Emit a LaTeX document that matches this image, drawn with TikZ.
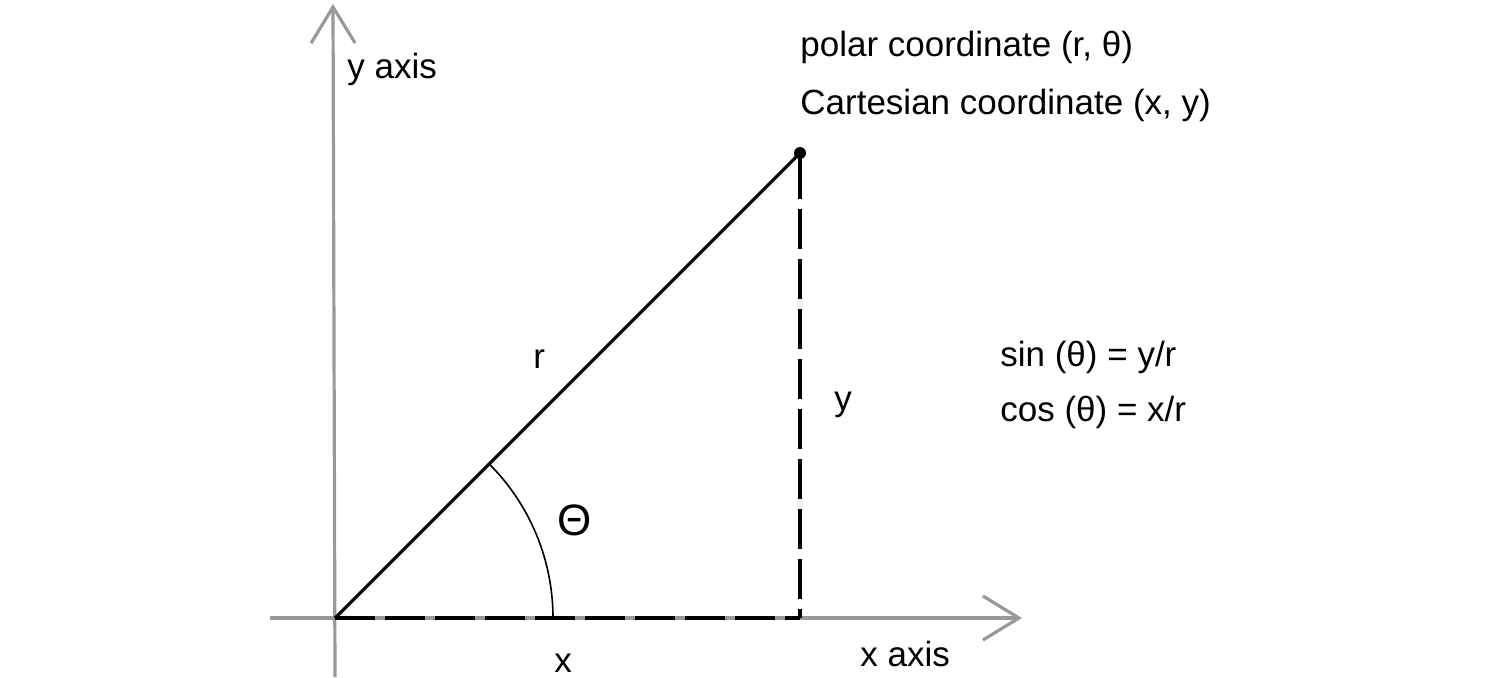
\documentclass[tikz,border=0pt]{standalone}
\usepackage{fontspec}
\setmainfont{Liberation Sans}
\usetikzlibrary{arrows.meta}

\begin{document}
\begin{tikzpicture}[x=0.5pt,y=-0.5pt,
   axis/.style ={draw=gray!80, line width=1.6pt, -{Straight Barb[length=18pt,width=22pt,line width=1.6pt]}},
   ray/.style ={draw=black, line width=1.6pt},
   proj/.style ={draw=black, line width=1.6pt, dash pattern=on 20pt off 5pt},
   label/.style ={inner sep=0pt, anchor=base west, font=\fontsize{17.5}{21}\selectfont},
   pt/.style ={circle, fill=black, inner sep=0pt, minimum size=6pt}]
   \useasboundingbox (0,0) rectangle (1485,677);
   \coordinate (O) at (335,618);
   \coordinate (Xs) at (270,618);
   \coordinate (Xe) at (1022,618);
   \coordinate (Ys) at (335,677);
   \coordinate (Ye) at (333,4);
   \coordinate (F) at (800,618);
   \node[pt] (P) at (800,153) {};
   
   \draw[axis] (Xs) to (Xe);
   \draw[axis] (Ys) to (Ye);
   
   \draw[ray] (O) to (P.center);
   \draw[proj] (P.south) to (F);
   \draw[proj] (O) to (F);
   \draw[line width=0.8pt] ([shift={(218,0)}]O) arc[start angle=0, end angle=-45, radius=218];
   
   \node[label] (yaxis) at (347,78) {y axis};
   \node[label] (polar) at (800,56) {polar coordinate (r, θ)};
   \node[label] (cart) at (800,114) {Cartesian coordinate (x, y)};
   \node[label] (sin) at (1000,366) {sin (θ) = y/r};
   \node[label] (cos) at (1000,421) {cos (θ) = x/r};
   \node[label] (r) at (533,368) {r};
   \node[label] (y) at (834,410) {y};
   \node[label, font=\fontsize{22}{26}\selectfont] (theta) at (557,535) {Θ};
   \node[label] (x) at (554,672) {x};
   \node[label] (xaxis) at (860,666) {x axis};
 \end{tikzpicture}
\end{document}
